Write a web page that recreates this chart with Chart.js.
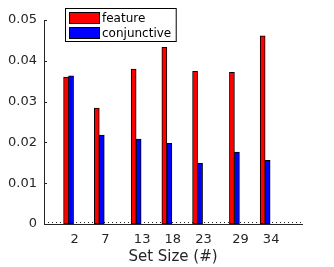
<!DOCTYPE html>
<html>
<head>
<meta charset="utf-8">
<script src="https://cdn.jsdelivr.net/npm/chart.js@4.4.0/dist/chart.umd.min.js"></script>
<style>
  html, body { margin: 0; padding: 0; background: #fff; }
  #wrap { width: 334px; height: 267px; }
</style>
</head>
<body>
<div id="wrap"><canvas id="setSizeChart" width="334" height="267"></canvas></div>
<script>
'use strict';

//Chart data
var setSizes = [2, 7, 13, 18, 23, 29, 34];
var featureValues = [0.0360, 0.0284, 0.0380, 0.0433, 0.0374, 0.0372, 0.0461];
var conjunctiveValues = [0.0363, 0.0218, 0.0208, 0.0198, 0.0149, 0.0176, 0.0156];
var yTicks = [0, 0.01, 0.02, 0.03, 0.04, 0.05];
var seriesNames = ['feature', 'conjunctive'];
var seriesColors = ['#ff0000', '#0000ff'];

var axisColor = '#262626';

function toPoints(values) {
    return setSizes.map(function(x, i) {
        return {x: x, y: values[i]};
    });
}

//Axis decorations and legend drawn the MATLAB way
var matlabDecor = {
    id: 'matlabDecor',
    beforeDatasetsDraw: function(chart) {
        var ctx = chart.ctx,
            area = chart.chartArea;
        ctx.save();
        ctx.fillStyle = axisColor;
        for (var px = area.left + 4; px < area.right; px += 4) {
            ctx.fillRect(Math.round(px), Math.round(area.bottom) - 2, 1, 1);
        }
        ctx.restore();
    },
    afterDraw: function(chart) {
        var ctx = chart.ctx,
            area = chart.chartArea,
            yScale = chart.scales.y;

        ctx.save();
        ctx.strokeStyle = axisColor;
        ctx.lineWidth = 1;
        yScale.ticks.forEach(function(t) {
            var py = Math.round(yScale.getPixelForValue(t.value)) + 0.5;
            ctx.beginPath();
            ctx.moveTo(area.left, py);
            ctx.lineTo(area.left + 3, py);
            ctx.stroke();
        });

        //Legend box
        ctx.font = '12px "DejaVu Sans"';
        var textW = Math.max.apply(null, seriesNames.map(function(n) {
            return ctx.measureText(n).width;
        }));
        var boxX = 65.5, boxY = 8.5, textX = 102;
        var boxW = textX + textW + 5 - boxX;
        ctx.fillStyle = '#fff';
        ctx.fillRect(boxX, boxY, boxW, 33);
        ctx.strokeStyle = '#000';
        ctx.strokeRect(boxX, boxY, boxW, 33);

        seriesNames.forEach(function(name, i) {
            var sy = 12.5 + i * 15;
            ctx.fillStyle = seriesColors[i];
            ctx.fillRect(69.5, sy, 30, 11);
            ctx.strokeStyle = '#000';
            ctx.strokeRect(69.5, sy, 30, 11);
            ctx.fillStyle = '#000';
            ctx.textBaseline = 'middle';
            ctx.textAlign = 'left';
            ctx.fillText(name, textX, sy + 6);
        });
        ctx.restore();
    }
};

var ctx = document.getElementById('setSizeChart');

var myChart = new Chart(ctx, {
    type: 'bar',
    data: {
        datasets: [
            {
                label: seriesNames[0],
                backgroundColor: seriesColors[0],
                borderColor: '#000',
                borderWidth: 1,
                borderSkipped: false,
                barThickness: 5,
                data: toPoints(featureValues)
            },
            {
                label: seriesNames[1],
                backgroundColor: seriesColors[1],
                borderColor: '#000',
                borderWidth: 1,
                borderSkipped: false,
                barThickness: 5,
                data: toPoints(conjunctiveValues)
            }
        ]
    },
    options: {
        responsive: false,
        animation: false,
        devicePixelRatio: 1,
        layout: {
            padding: {left: 0, right: 32, top: 20, bottom: 0}
        },
        plugins: {
            legend: {display: false},
            tooltip: {enabled: false}
        },
        scales: {
            x: {
                type: 'linear',
                offset: false,
                min: -2,
                max: 40,
                grid: {display: false, drawTicks: false},
                border: {display: true, color: axisColor, width: 1},
                afterBuildTicks: function(axis) {
                    axis.ticks = setSizes.map(function(v) { return {value: v}; });
                },
                afterFit: function(axis) { axis.height = 43; },
                ticks: {
                    autoSkip: false,
                    maxRotation: 0,
                    padding: 8,
                    labelOffset: 6,
                    color: axisColor,
                    font: {family: 'DejaVu Sans', size: 13},
                    callback: function(v) { return String(v); }
                },
                title: {
                    display: true,
                    text: 'Set Size (#)',
                    color: axisColor,
                    font: {family: 'DejaVu Sans', size: 15},
                    padding: {top: 0, bottom: 1}
                }
            },
            y: {
                min: 0,
                max: 0.05,
                grid: {display: false, drawTicks: false},
                border: {display: true, color: axisColor, width: 1},
                afterBuildTicks: function(axis) {
                    axis.ticks = yTicks.map(function(v) { return {value: v}; });
                },
                afterFit: function(axis) { axis.width = 44; },
                ticks: {
                    padding: 7,
                    color: axisColor,
                    font: {family: 'DejaVu Sans', size: 13},
                    callback: function(v) { return v === 0 ? '0' : v.toFixed(2); }
                }
            }
        }
    },
    plugins: [matlabDecor]
});
</script>
</body>
</html>
